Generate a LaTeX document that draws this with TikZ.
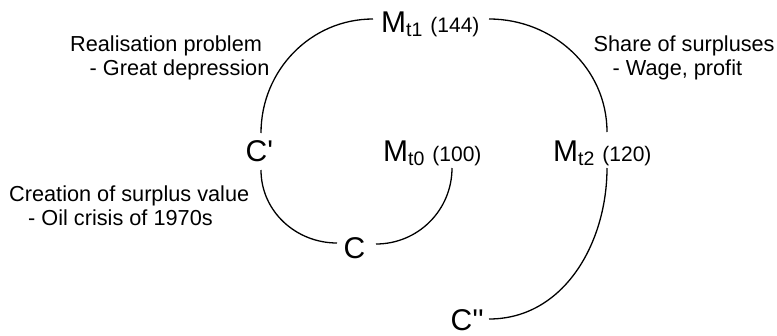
\documentclass[tikz,border=0pt]{standalone}
\usepackage{fontspec}
\setmainfont{Liberation Sans}
% plain family without TeX ligatures, so that ' stays a straight prime
\newfontfamily\plainsans{Liberation Sans}
\newcommand{\bigsym}[1]{{\plainsans\fontsize{30}{30}\selectfont #1}}
\newcommand{\subtxt}[1]{{\fontsize{19.5}{19.5}\selectfont #1}}
\newcommand{\amounttxt}[1]{{\fontsize{21}{21}\selectfont #1}}
\newcommand{\moneylabel}[2]{\bigsym{M}\raisebox{-4pt}{\subtxt{#1}}\hspace{8pt}\amounttxt{#2}}
\begin{document}
\begin{tikzpicture}[x=1pt,y=-1pt,
  stage/.style={inner sep=0pt,anchor=base west},
  note/.style={inner sep=0pt,anchor=base west,align=left,
    font=\fontsize{21.7}{24}\selectfont},
  flow/.style={line width=1.3pt,black}]
\useasboundingbox (0,0) rectangle (777,335);

% circuit stages
\node[stage] (mt0) at (383,161) {\moneylabel{t0}{(100)}};
\node[stage] (mt1) at (381,32)  {\moneylabel{t1}{(144)}};
\node[stage] (mt2) at (553,161) {\moneylabel{t2}{(120)}};
\node[stage] (c)   at (343.5,258) {\bigsym{C}};
\node[stage] (cp)  at (245.5,161) {\bigsym{C'}};
\node[stage] (cpp) at (450.5,330) {\bigsym{C''}};

% where each arc leaves or meets a stage
\coordinate (mt0-out) at (452,168);
\coordinate (c-in)    at (376,244);
\coordinate (c-out)   at (337,243);
\coordinate (cp-in)   at (261,170);
\coordinate (cp-out)  at (261,133);
\coordinate (mt1-in)  at (373,19);
\coordinate (mt1-out) at (489,19);
\coordinate (mt2-in)  at (607,132);
\coordinate (mt2-out) at (607,168);
\coordinate (cpp-in)  at (489,319);

% spiral of quarter arcs
\draw[flow] (mt0-out) to[out=-90,in=0]   (c-in);
\draw[flow] (c-out)   to[out=180,in=-90] (cp-in);
\draw[flow] (cp-out)  to[out=90,in=180]  (mt1-in);
\draw[flow] (mt1-out) to[out=0,in=90]    (mt2-in);
\draw[flow] (mt2-out) to[out=-90,in=0]   (cpp-in);

% annotations (anchored on the baseline of their last line)
\node[note] (realise) at (70,75)
  {Realisation problem\\\hspace{19.5pt}- Great depression};
\node[note] (create) at (9,225)
  {Creation of surplus value\\\hspace{19pt}- Oil crisis of 1970s};
\node[note] (share) at (593.5,75)
  {Share of surpluses\\\hspace{19pt}- Wage, profit};
\end{tikzpicture}
\end{document}
